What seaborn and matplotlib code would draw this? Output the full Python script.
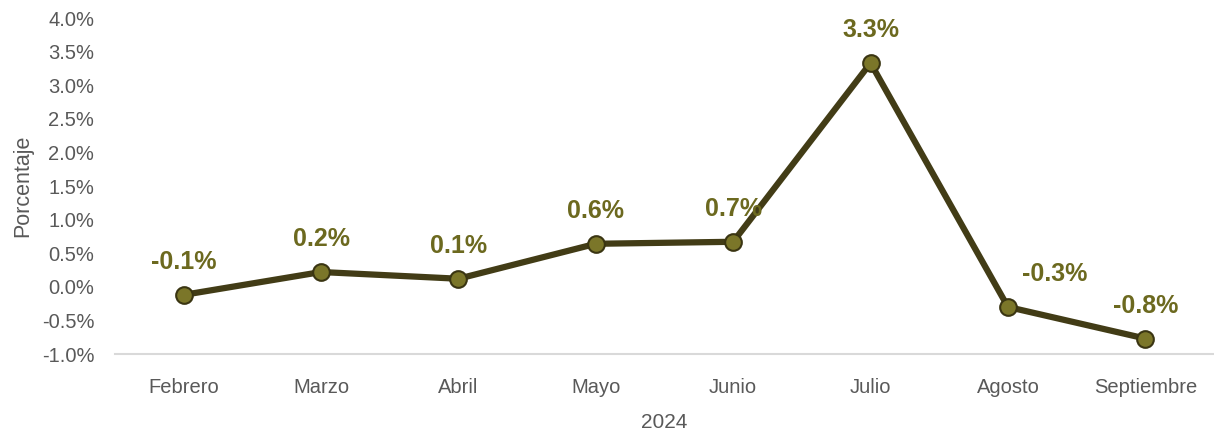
import numpy as np
import pandas as pd
import matplotlib
matplotlib.use('Agg')
import matplotlib.pyplot as plt
import seaborn as sns
from matplotlib.ticker import PercentFormatter

meses = ['Febrero', 'Marzo', 'Abril', 'Mayo', 'Junio', 'Julio', 'Agosto', 'Septiembre']
variacion = [-0.12, 0.22, 0.12, 0.64, 0.67, 3.33, -0.30, -0.77]
etiquetas = ['-0.1%', '0.2%', '0.1%', '0.6%', '0.7%', '3.3%', '-0.3%', '-0.8%']

df = pd.DataFrame({'mes': meses, 'valor': variacion})

sns.set_style('white')
plt.rcParams['font.family'] = ['Liberation Sans', 'DejaVu Sans']
plt.rcParams['axes.unicode_minus'] = False

fig = plt.figure(figsize=(12.14, 4.34), dpi=100)
ax = fig.add_axes([115 / 1214, 80 / 434, 1099 / 1214, 336 / 434])

sns.lineplot(data=df, x='mes', y='valor', sort=False, ax=ax,
             color='#423c16', linewidth=4.5, marker='o', markersize=12,
             markerfacecolor='#7b7629', markeredgecolor='#3a3512',
             markeredgewidth=1.5)

# etiquetas de datos
desplaz_x = [0, 0, 0, 0, 0, 0, 0.34, 0]
for i, (v, t) in enumerate(zip(variacion, etiquetas)):
    ax.annotate(t, (i + desplaz_x[i], v), xytext=(0, 15), textcoords='offset points',
                ha='center', va='bottom', fontsize=18, fontweight='bold',
                color='#6c691f')

ax.set_xlim(-0.5, 7.5)
ax.set_ylim(-1.0, 4.0)
ax.set_yticks(np.arange(-1.0, 4.01, 0.5))
ax.yaxis.set_major_formatter(PercentFormatter(decimals=1))

for s in ['top', 'right', 'left']:
    ax.spines[s].set_visible(False)
ax.spines['bottom'].set_color('#d9d9d9')
ax.spines['bottom'].set_linewidth(1.5)
ax.tick_params(axis='both', length=0, labelsize=14.5, labelcolor='#595959')
ax.tick_params(axis='x', pad=17)
ax.tick_params(axis='y', pad=15)

ax.set_xlabel('2024', fontsize=15, color='#595959', labelpad=12)
ax.set_ylabel('Porcentaje', fontsize=15.5, color='#595959', labelpad=6)

fig.savefig('out.png', dpi=100)
